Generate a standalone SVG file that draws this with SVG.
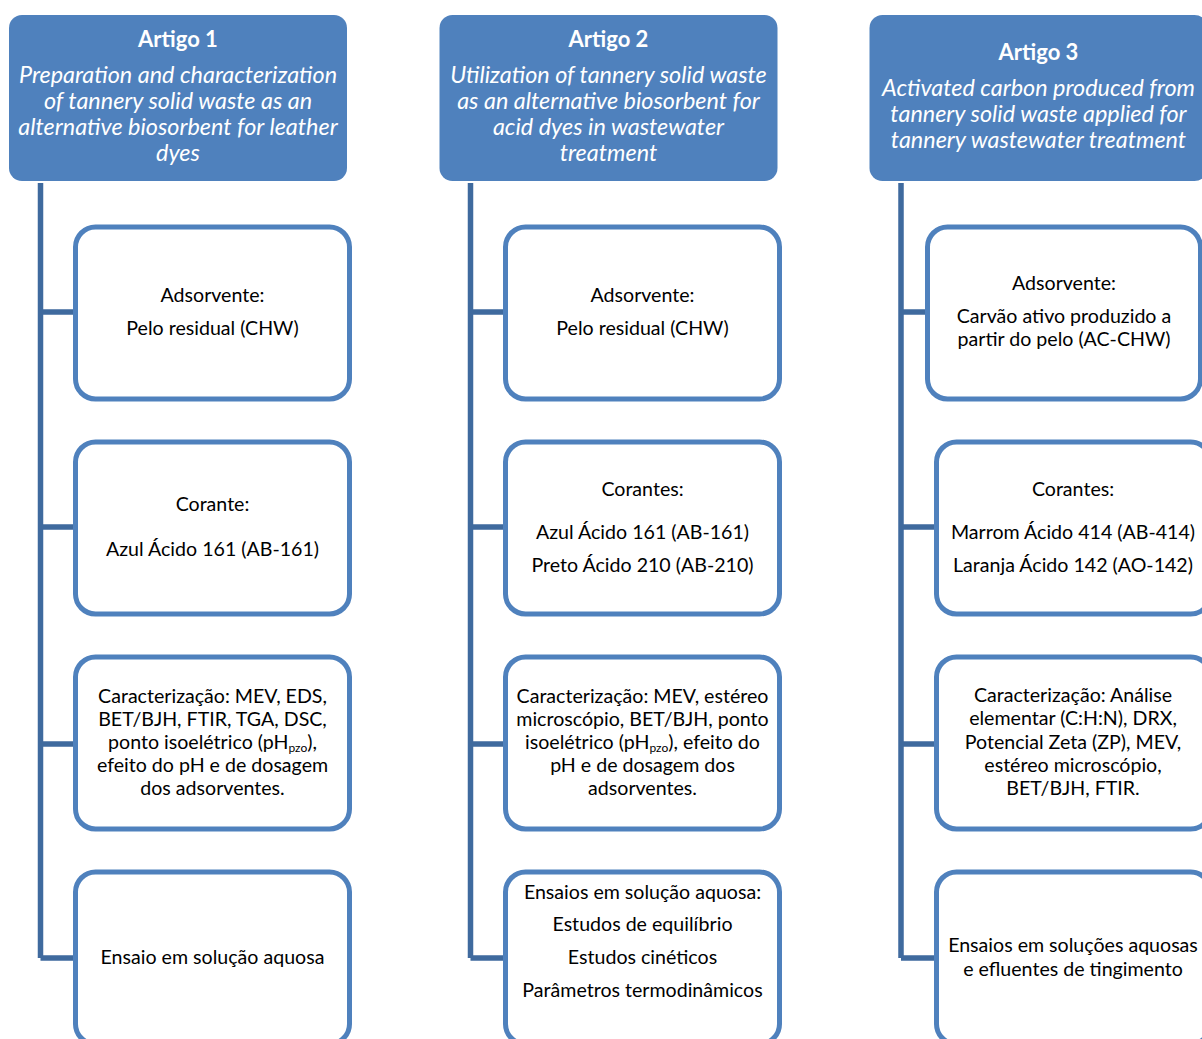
<svg xmlns="http://www.w3.org/2000/svg" width="1202" height="1039" viewBox="0 0 1202 1039">
<style>
.hdr{fill:#4F81BD;}
.box{fill:#FFFFFF;stroke:#4F81BD;stroke-width:5;}
.con{fill:none;stroke:#3F6A9E;stroke-width:5.5;stroke-linejoin:miter;}
.ht{font-family:Lato,"Open Sans","Liberation Sans",sans-serif;fill:#FFFFFF;text-anchor:middle;}
.hb{font-weight:bold;font-size:22px;}
.hi{font-style:italic;font-size:23.4px;}
.bt{font-family:Lato,"Open Sans","Liberation Sans",sans-serif;fill:#000000;font-size:19.6px;text-anchor:middle;}
.sub{font-size:12px;}
</style>
<rect width="1202" height="1039" fill="#FFFFFF"/>
<g id="connectors">
<path class="con" d="M40.5 183 V958 M40.5 312 H76 M40.5 527 H76 M40.5 744 H76 M40.5 958 H76"/>
<path class="con" d="M470.5 183 V958 M470.5 312 H506 M470.5 527 H506 M470.5 744 H506 M470.5 958 H506"/>
<path class="con" d="M901 183 V958 M901 312 H928 M901 527 H937 M901 744 H937 M901 958 H937"/>
</g>
<g id="artigo1">
<rect class="hdr" x="9" y="15" width="338" height="166" rx="13"/>
<text class="ht hb" x="178" y="47">Artigo 1</text>
<text class="ht hi" x="178" y="83">Preparation and characterization</text>
<text class="ht hi" x="178" y="109">of tannery solid waste as an</text>
<text class="ht hi" x="178" y="135">alternative biosorbent for leather</text>
<text class="ht hi" x="178" y="161">dyes</text>
</g>
<g id="a1-adsorvente">
<rect class="box" x="75.5" y="227" width="274" height="172" rx="20"/>
<text class="bt" x="212.5" y="302">Adsorvente:</text>
<text class="bt" x="212.5" y="335">Pelo residual (CHW)</text>
</g>
<g id="a1-corante">
<rect class="box" x="75.5" y="442" width="274" height="172" rx="20"/>
<text class="bt" x="212.5" y="511">Corante:</text>
<text class="bt" x="212.5" y="556">Azul Ácido 161 (AB-161)</text>
</g>
<g id="a1-caracterizacao">
<rect class="box" x="75.5" y="657" width="274" height="172" rx="20"/>
<text class="bt" x="212.5" y="703">Caracterização: MEV, EDS,</text>
<text class="bt" x="212.5" y="726">BET/BJH, FTIR, TGA, DSC,</text>
<text class="bt" x="212.5" y="749">ponto isoelétrico (pH<tspan class="sub" dy="3">pzo</tspan><tspan dy="-3">),</tspan></text>
<text class="bt" x="212.5" y="772">efeito do pH e de dosagem</text>
<text class="bt" x="212.5" y="795">dos adsorventes.</text>
</g>
<g id="a1-ensaio">
<rect class="box" x="75.5" y="872" width="274" height="172" rx="20"/>
<text class="bt" x="212.5" y="964">Ensaio em solução aquosa</text>
</g>
<g id="artigo2">
<rect class="hdr" x="439.5" y="15" width="338" height="166" rx="13"/>
<text class="ht hb" x="608.5" y="47">Artigo 2</text>
<text class="ht hi" x="608.5" y="83">Utilization of tannery solid waste</text>
<text class="ht hi" x="608.5" y="109">as an alternative biosorbent for</text>
<text class="ht hi" x="608.5" y="135">acid dyes in wastewater</text>
<text class="ht hi" x="608.5" y="161">treatment</text>
</g>
<g id="a2-adsorvente">
<rect class="box" x="505.5" y="227" width="274" height="172" rx="20"/>
<text class="bt" x="642.5" y="302">Adsorvente:</text>
<text class="bt" x="642.5" y="335">Pelo residual (CHW)</text>
</g>
<g id="a2-corantes">
<rect class="box" x="505.5" y="442" width="274" height="172" rx="20"/>
<text class="bt" x="642.5" y="496">Corantes:</text>
<text class="bt" x="642.5" y="539">Azul Ácido 161 (AB-161)</text>
<text class="bt" x="642.5" y="572">Preto Ácido 210 (AB-210)</text>
</g>
<g id="a2-caracterizacao">
<rect class="box" x="505.5" y="657" width="274" height="172" rx="20"/>
<text class="bt" x="642.5" y="703">Caracterização: MEV, estéreo</text>
<text class="bt" x="642.5" y="726">microscópio, BET/BJH, ponto</text>
<text class="bt" x="642.5" y="749">isoelétrico (pH<tspan class="sub" dy="3">pzo</tspan><tspan dy="-3">), efeito do</tspan></text>
<text class="bt" x="642.5" y="772">pH e de dosagem dos</text>
<text class="bt" x="642.5" y="795">adsorventes.</text>
</g>
<g id="a2-ensaios">
<rect class="box" x="505.5" y="872" width="274" height="172" rx="20"/>
<text class="bt" x="642.5" y="899">Ensaios em solução aquosa:</text>
<text class="bt" x="642.5" y="931">Estudos de equilíbrio</text>
<text class="bt" x="642.5" y="964">Estudos cinéticos</text>
<text class="bt" x="642.5" y="997">Parâmetros termodinâmicos</text>
</g>
<g id="artigo3">
<rect class="hdr" x="869.5" y="15" width="338" height="166" rx="13"/>
<text class="ht hb" x="1038.5" y="60">Artigo 3</text>
<text class="ht hi" x="1038.5" y="96">Activated carbon produced from</text>
<text class="ht hi" x="1038.5" y="122">tannery solid waste applied for</text>
<text class="ht hi" x="1038.5" y="148">tannery wastewater treatment</text>
</g>
<g id="a3-adsorvente">
<rect class="box" x="927.5" y="227" width="273" height="172" rx="20"/>
<text class="bt" x="1064" y="290">Adsorvente:</text>
<text class="bt" x="1064" y="323">Carvão ativo produzido a</text>
<text class="bt" x="1064" y="346">partir do pelo (AC-CHW)</text>
</g>
<g id="a3-corantes">
<rect class="box" x="936.5" y="442" width="274" height="172" rx="20"/>
<text class="bt" x="1073" y="496">Corantes:</text>
<text class="bt" x="1073" y="539">Marrom Ácido 414 (AB-414)</text>
<text class="bt" x="1073" y="572">Laranja Ácido 142 (AO-142)</text>
</g>
<g id="a3-caracterizacao">
<rect class="box" x="936.5" y="657" width="274" height="172" rx="20"/>
<text class="bt" x="1073" y="702">Caracterização: Análise</text>
<text class="bt" x="1073" y="725">elementar (C:H:N), DRX,</text>
<text class="bt" x="1073" y="749">Potencial Zeta (ZP), MEV,</text>
<text class="bt" x="1073" y="772">estéreo microscópio,</text>
<text class="bt" x="1073" y="795">BET/BJH, FTIR.</text>
</g>
<g id="a3-ensaios">
<rect class="box" x="936.5" y="872" width="274" height="172" rx="20"/>
<text class="bt" x="1073" y="952">Ensaios em soluções aquosas</text>
<text class="bt" x="1073" y="976">e efluentes de tingimento</text>
</g>
</svg>
